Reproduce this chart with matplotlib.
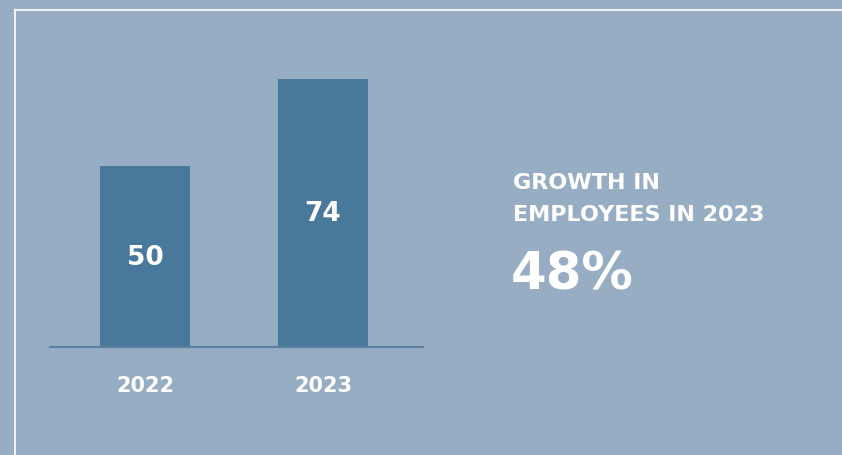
import matplotlib.pyplot as plt
from matplotlib.lines import Line2D

# employee headcount by year
years = ['2022', '2023']
employees = [50, 74]
growth_lines = ['GROWTH IN', 'EMPLOYEES IN 2023']
growth_value = '48%'

bg = '#97adc4'
bar_color = '#48789a'
font = 'DejaVu Sans'

fig = plt.figure(figsize=(8.42, 4.56), dpi=100, facecolor=bg)

W, H = 842, 456
ax = fig.add_axes([50 / W, 108 / H, 373 / W, 308 / H])
ax.set_facecolor(bg)

x = range(len(years))
bars = ax.bar(x, employees, width=0.506, color=bar_color)
ax.set_xlim(-0.534, 1.562)
ax.set_ylim(0, 308 / 3.615)

# value labels in the middle of each bar
for rect, v in zip(bars, employees):
    ax.text(rect.get_x() + rect.get_width() / 2, v / 2, str(v),
            ha='center', va='center', color='white', fontsize=19,
            fontweight='bold', family=font)

for side in ['top', 'right', 'left']:
    ax.spines[side].set_visible(False)
ax.spines['bottom'].set_color('#5a82a0')
ax.spines['bottom'].set_linewidth(1.6)
ax.set_yticks([])
ax.set_xticks(list(x))
ax.set_xticklabels(years, color='white', fontsize=15, fontweight='bold', family=font)
ax.tick_params(axis='x', length=0, pad=20.5)

# thin frame along the top and left
fig.add_artist(Line2D([15 / W, 15 / W], [0, 1 - 11 / H], color='#eef2f6', lw=1.5))
fig.add_artist(Line2D([15 / W, 1], [1 - 11 / H, 1 - 11 / H], color='#eef2f6', lw=1.5))

# headline on the right, one baseline per line
for line, base in zip(growth_lines, [189, 221]):
    fig.text(513 / W, 1 - base / H, line, color='white', fontsize=16,
             fontweight='bold', family=font, ha='left', va='baseline')
fig.text(511 / W, 1 - 289 / H, growth_value, color='white', fontsize=37,
         fontweight='bold', family=font, ha='left', va='baseline')

fig.savefig('out.png', dpi=100, facecolor=bg)
